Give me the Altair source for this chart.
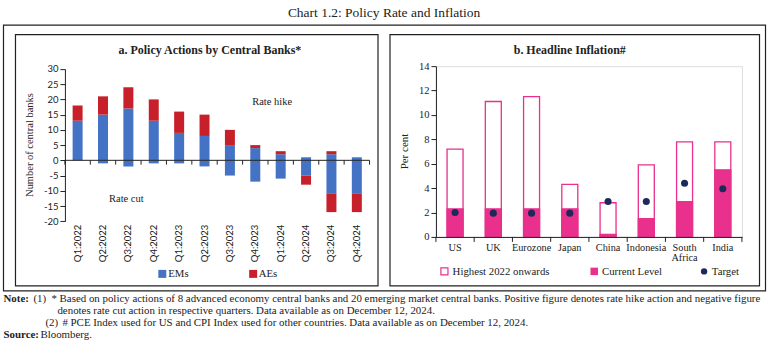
import altair as alt
import pandas as pd

# ---------------- data ----------------
quarters = ["Q1:2022", "Q2:2022", "Q3:2022", "Q4:2022", "Q1:2023", "Q2:2023",
            "Q3:2023", "Q4:2023", "Q1:2024", "Q2:2024", "Q3:2024", "Q4:2024"]
em_hike = [13, 15, 17, 13, 9, 8, 5, 4, 2, 1, 2, 1]
ae_hike = [5, 6, 7, 7, 7, 7, 5, 1, 1, 0, 1, 0]
em_cut = [0, -1, -2, -1, -1, -2, -5, -7, -6, -5, -11, -11]
ae_cut = [0, 0, 0, 0, 0, 0, 0, 0, 0, -3, -6, -6]

countries = ["US", "UK", "Eurozone", "Japan", "China", "Indonesia", "South Africa", "India"]
highest = [7.2, 11.1, 11.5, 4.3, 2.8, 5.9, 7.8, 7.8]
current = [2.3, 2.3, 2.3, 2.3, 0.2, 1.5, 2.9, 5.5]
target = [2.0, 1.95, 1.95, 1.95, 2.9, 2.9, 4.4, 3.95]

# ---------------- styling ----------------
SERIF = "Liberation Serif"
SANS = "Lato"
BLUE = "#4472C4"
RED = "#C8202B"
PINK = "#E8308C"
NAVY = "#1C2A5A"
INK = "#222222"

rows = []
for q, a, b, c, d in zip(quarters, em_hike, ae_hike, em_cut, ae_cut):
    for grp, val, o in (("EMs", a, 0), ("AEs", b, 1), ("EMs", c, 0), ("AEs", d, 1)):
        if val != 0:
            rows.append({"quarter": q, "group": grp, "value": val, "ord": o})
left_df = pd.DataFrame(rows)
qdf = pd.DataFrame({"quarter": quarters})
qlast = pd.DataFrame({"quarter": quarters[-1:]})

infl = pd.DataFrame({"country": countries, "highest": highest,
                     "current": current, "target": target})
cdf = pd.DataFrame({"country": countries})
clast = pd.DataFrame({"country": countries[-1:]})

one = pd.DataFrame({"a": [0]})

# left view origin (64.5, 65) ; right view origin (436, 65)
LX, LY = 64.5, 65.0
RX, RY = 436.0, 65.0
LW, LH = 305, 155.3
RW, RH = 306.4, 171
NOTE = 10.9


def txt(s, x, y, size=10, align="left", weight="normal", angle=None, font=SERIF, color=INK):
    kw = dict(text=s, align=align, baseline="middle", font=font, fontSize=size,
              fontWeight=weight, color=color)
    if angle is not None:
        kw["angle"] = angle
    return alt.Chart(one).mark_text(**kw).encode(x=alt.value(x), y=alt.value(y))


def box(x0, y0, x1, y1, ox, oy, width=1.2):
    return alt.Chart(one).mark_rect(filled=False, stroke=INK, strokeWidth=width).encode(
        x=alt.value(x0 - ox), x2=alt.value(x1 - ox), y=alt.value(y0 - oy), y2=alt.value(y1 - oy))


# ---------------- left panel ----------------
xq_axis = alt.Axis(title=None, labelAngle=270, domain=False, ticks=False, zindex=1,
                   labelPadding=3, labelFont=SANS, labelFontSize=9.5, labelColor=INK)
xq = alt.X("quarter:N", sort=quarters, scale=alt.Scale(paddingInner=0, paddingOuter=0),
           axis=xq_axis)
yl_scale = alt.Scale(domain=[-20, 30], range=[LH, 2.8], nice=False, zero=False)
yl_axis = alt.Axis(title=None, values=list(range(-20, 31, 5)), grid=False, zindex=1,
                   labelExpr="datum.value + ''", labelFont=SANS, labelFontSize=9.5,
                   labelOverlap=False, labelColor=INK, domainColor=INK, tickColor=INK,
                   tickSize=5, labelPadding=2)

bg = alt.Chart(one).mark_rect(fill="white").encode(
    x=alt.value(-LX), x2=alt.value(769 - LX), y=alt.value(-LY), y2=alt.value(352 - LY))

bars_l = alt.Chart(left_df).mark_bar(size=10).encode(
    x=xq,
    y=alt.Y("value:Q", stack="zero", scale=yl_scale, axis=yl_axis),
    color=alt.Color("group:N", scale=alt.Scale(domain=["EMs", "AEs"], range=[BLUE, RED]),
                    legend=None),
    order=alt.Order("ord:Q"),
)

zero_line = alt.Chart(one).mark_rule(color=INK, strokeWidth=1).encode(
    y=alt.Y(datum=0, scale=yl_scale, axis=yl_axis), x=alt.value(0), x2=alt.value(LW))
zticks = alt.Chart(qdf).mark_rule(color=INK, strokeWidth=1).encode(
    x=alt.X("quarter:N", sort=quarters, bandPosition=0, axis=xq_axis),
    y=alt.Y(datum=0, scale=yl_scale, axis=yl_axis), y2=alt.datum(-1.4))
zticks_end = alt.Chart(qlast).mark_rule(color=INK, strokeWidth=1).encode(
    x=alt.X("quarter:N", sort=quarters, bandPosition=1, axis=xq_axis),
    y=alt.Y(datum=0, scale=yl_scale, axis=yl_axis), y2=alt.datum(-1.4))

left_layers = [
    bg,
    box(3, 24, 766, 290, LX, LY),
    box(15, 33.5, 378, 285, LX, LY),
    box(390, 33.5, 760, 285, LX, LY),
    bars_l, zero_line, zticks, zticks_end,
    txt("Chart 1.2: Policy Rate and Inflation", 384 - LX, 12 - LY, size=13.5, align="center"),
    txt("a. Policy Actions by Central Banks*", 209.7 - LX, 49.3 - LY, size=12, align="center",
        weight="bold"),
    txt("Number of central banks", 30 - LX, 144 - LY, size=10.5, align="center", angle=270),
    txt("Rate hike", 272 - LX, 101 - LY, size=10.5, align="center"),
    txt("Rate cut", 126 - LX, 198 - LY, size=10.5, align="center"),
    alt.Chart(one).mark_square(size=64, color=BLUE, opacity=1).encode(
        x=alt.value(162 - LX), y=alt.value(273 - LY)),
    txt("EMs", 168 - LX, 273.5 - LY, size=10.8),
    alt.Chart(one).mark_square(size=64, color=RED, opacity=1).encode(
        x=alt.value(253 - LX), y=alt.value(273 - LY)),
    txt("AEs", 258.5 - LX, 273.5 - LY, size=10.8),
    # notes
    txt("Note:", 3 - LX, 298 - LY, size=NOTE, weight="bold"),
    txt("(1)", 33 - LX, 298 - LY, size=NOTE),
    txt("* Based on policy actions of 8 advanced economy central banks and 20 emerging market "
        "central banks. Positive figure denotes rate hike action and negative figure",
        51 - LX, 298 - LY, size=NOTE),
    txt("denotes rate cut action in respective quarters. Data available as on December 12, 2024.",
        57 - LX, 310 - LY, size=NOTE),
    txt("(2)", 45 - LX, 322 - LY, size=NOTE),
    txt("# PCE Index used for US and CPI Index used for other countries. Data available as on "
        "December 12, 2024.", 62 - LX, 322 - LY, size=NOTE),
    txt("Source:", 3 - LX, 334 - LY, size=NOTE, weight="bold"),
    txt("Bloomberg.", 40 - LX, 334 - LY, size=NOTE),
]
left = alt.layer(*left_layers).properties(width=LW, height=LH)

# ---------------- right panel ----------------
xc_axis = alt.Axis(title=None, labelAngle=0, domain=True, ticks=False, labelPadding=6, zindex=1,
                   labelFont=SERIF, labelFontSize=10.3, labelColor=INK, domainColor=INK,
                   labelLineHeight=10, labelBaseline="top",
                   labelExpr="datum.label == 'South Africa' ? ['South', 'Africa'] : datum.label")
xc = alt.X("country:N", sort=countries, scale=alt.Scale(paddingInner=0, paddingOuter=0),
           axis=xc_axis)
yr_scale = alt.Scale(domain=[0, 14], nice=False)
yr_axis = alt.Axis(title=None, values=list(range(0, 15, 2)), grid=False, labelFont=SERIF,
                   labelFontSize=10.5, labelColor=INK, domainColor=INK, tickColor=INK,
                   labelOverlap=False, tickSize=5, labelPadding=2, zindex=1)

hi_bars = alt.Chart(infl).mark_bar(size=16, fill="white", stroke=PINK, strokeWidth=1.3).encode(
    x=xc, y=alt.Y("highest:Q", scale=yr_scale, axis=yr_axis))
cur_bars = alt.Chart(infl).mark_bar(size=16, color=PINK, stroke=PINK, strokeWidth=1.3).encode(
    x=xc, y=alt.Y("current:Q", scale=yr_scale, axis=yr_axis))
tgt = alt.Chart(infl).mark_circle(size=50, color=NAVY, opacity=1).encode(
    x=xc, y=alt.Y("target:Q", scale=yr_scale, axis=yr_axis))
cticks = alt.Chart(cdf).mark_rule(color=INK, strokeWidth=1).encode(
    x=alt.X("country:N", sort=countries, bandPosition=0, axis=xc_axis),
    y=alt.value(RH), y2=alt.value(RH + 5))
cticks_end = alt.Chart(clast).mark_rule(color=INK, strokeWidth=1).encode(
    x=alt.X("country:N", sort=countries, bandPosition=1, axis=xc_axis),
    y=alt.value(RH), y2=alt.value(RH + 5))

right_layers = [
    hi_bars, cur_bars, tgt, cticks, cticks_end,
    txt("b. Headline Inflation#", 570 - RX, 49 - RY, size=12, align="center", weight="bold"),
    txt("Per cent", 405 - RX, 150.5 - RY, size=11, align="center", angle=270),
    alt.Chart(one).mark_square(size=50, filled=False, stroke=PINK, strokeWidth=1.2, opacity=1).encode(
        x=alt.value(444.5 - RX), y=alt.value(270.5 - RY)),
    txt("Highest 2022 onwards", 452.7 - RX, 271 - RY, size=10.8),
    alt.Chart(one).mark_square(size=56, color=PINK, opacity=1).encode(
        x=alt.value(594.5 - RX), y=alt.value(270.5 - RY)),
    txt("Current Level", 602.3 - RX, 271 - RY, size=10.8),
    alt.Chart(one).mark_circle(size=40, color=NAVY, opacity=1).encode(
        x=alt.value(704.5 - RX), y=alt.value(270.5 - RY)),
    txt("Target", 712.3 - RX, 271 - RY, size=10.8),
]
right = alt.layer(*right_layers).properties(width=RW, height=RH)

chart = alt.hconcat(left, right, spacing=RX - (LX + LW), bounds="flush").properties(
    padding=0
).configure_view(stroke=None).configure(background="white")

chart.save("out.html", embed_options={"renderer": "svg", "actions": False})
